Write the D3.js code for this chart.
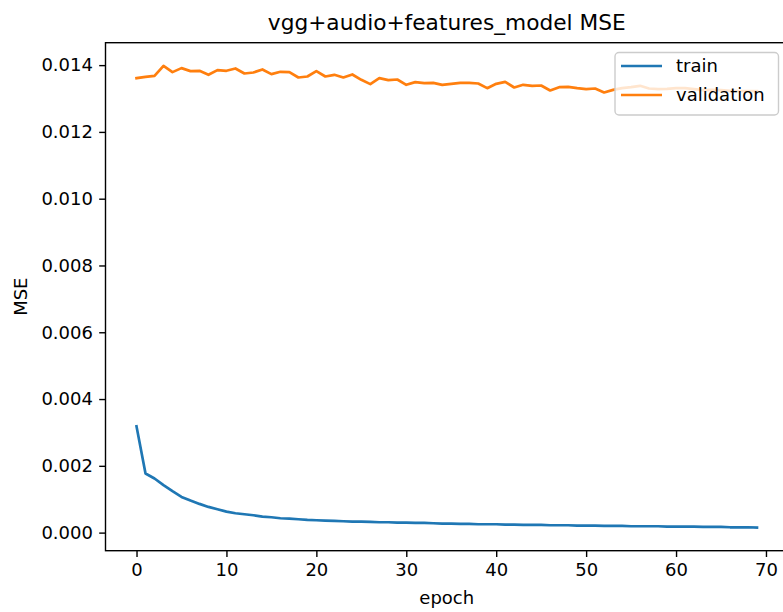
<!DOCTYPE html>
<html>
<head>
<meta charset="utf-8">
<script src="https://cdn.jsdelivr.net/npm/d3@7/dist/d3.min.js"></script>
<style>
  html, body { margin: 0; padding: 0; background: #fff; }
  svg { display: block; font-family: "DejaVu Sans", sans-serif; }
</style>
</head>
<body>
<svg id="chart" width="783" height="612"></svg>
<script>
// Per-epoch mean squared error for the training and validation sets
const epochs = d3.range(70);
const trainMSE = [
  0.00318, 0.00177, 0.00162, 0.00142, 0.00124, 0.00107, 0.00096, 0.00086, 0.00077, 0.00070,
  0.00063, 0.00058, 0.00055, 0.00052, 0.00048, 0.00046, 0.00043, 0.00042, 0.00040, 0.00038,
  0.00037, 0.00036, 0.00035, 0.00034, 0.00033, 0.00033, 0.00032, 0.00031, 0.00031, 0.00030,
  0.00030, 0.00029, 0.00029, 0.00028, 0.00027, 0.00027, 0.00026, 0.00026, 0.00025, 0.00025,
  0.00025, 0.00024, 0.00024, 0.00023, 0.00023, 0.00023, 0.00022, 0.00022, 0.00022, 0.00021,
  0.00021, 0.00021, 0.00020, 0.00020, 0.00020, 0.00019, 0.00019, 0.00019, 0.00019, 0.00018,
  0.00018, 0.00018, 0.00018, 0.00017, 0.00017, 0.00017, 0.00016, 0.00016, 0.00016, 0.00015
];
const validationMSE = [
  0.01361, 0.01365, 0.01368, 0.01398, 0.01379, 0.01391, 0.01382, 0.01383, 0.01371, 0.01385,
  0.01383, 0.01390, 0.01375, 0.01378, 0.01387, 0.01373, 0.01380, 0.01379, 0.01363, 0.01366,
  0.01382, 0.01366, 0.01371, 0.01363, 0.01372, 0.01356, 0.01343, 0.01361, 0.01355, 0.01357,
  0.01341, 0.01349, 0.01346, 0.01347, 0.01341, 0.01344, 0.01347, 0.01347, 0.01345, 0.01331,
  0.01344, 0.01350, 0.01333, 0.01341, 0.01338, 0.01339, 0.01324, 0.01334, 0.01335, 0.01331,
  0.01328, 0.01330, 0.01318, 0.01326, 0.01331, 0.01334, 0.01338, 0.01330, 0.01328, 0.01329,
  0.01331, 0.01331, 0.01328, 0.01325, 0.01326, 0.01325, 0.01323, 0.01322, 0.01322, 0.01322
];
const xTicks = [0, 10, 20, 30, 40, 50, 60, 70];
const yTicks = [0, 0.002, 0.004, 0.006, 0.008, 0.010, 0.012, 0.014];
const seriesNames = ["train", "validation"];
const seriesColors = ["#1f77b4", "#ff7f0e"];

const svg = d3.select("#chart");
const plot = { left: 105.5, right: 788, top: 42.7, bottom: 550.7 };
const fontSize = 18;
const tickLen = 6.3;
const tickPad = 6.3;

// Axis limits padded 5% past the data, as in the usual training-curve plots
const xPad = (d3.max(epochs) - d3.min(epochs)) * 0.05;
const x = d3.scaleLinear()
  .domain([d3.min(epochs) - xPad, d3.max(epochs) + xPad])
  .range([plot.left, plot.right]);
const allY = trainMSE.concat(validationMSE);
const yMin = d3.min(allY), yMax = d3.max(allY);
const yPad = (yMax - yMin) * 0.05;
const y = d3.scaleLinear()
  .domain([yMin - yPad, yMax + yPad])
  .range([plot.bottom, plot.top]);

// Data lines
const line = d3.line().x((d, i) => x(epochs[i])).y(d => y(d));
const clip = svg.append("clipPath").attr("id", "plot-clip")
  .append("rect")
  .attr("x", plot.left).attr("y", plot.top)
  .attr("width", plot.right - plot.left).attr("height", plot.bottom - plot.top);

[trainMSE, validationMSE].forEach((series, k) => {
  svg.append("path")
    .datum(series)
    .attr("clip-path", "url(#plot-clip)")
    .attr("fill", "none")
    .attr("stroke", seriesColors[k])
    .attr("stroke-width", 2.7)
    .attr("stroke-linejoin", "round")
    .attr("stroke-linecap", "square")
    .attr("d", line);
});

// Axes
const xAxis = d3.axisBottom(x).tickValues(xTicks).tickFormat(d3.format("d"))
  .tickSizeInner(tickLen).tickSizeOuter(0).tickPadding(tickPad);
const yAxis = d3.axisLeft(y).tickValues(yTicks).tickFormat(d3.format(".3f"))
  .tickSizeInner(tickLen).tickSizeOuter(0).tickPadding(tickPad);

const gx = svg.append("g").attr("transform", `translate(0,${plot.bottom})`).call(xAxis);
const gy = svg.append("g").attr("transform", `translate(${plot.left},0)`).call(yAxis);
[gx, gy].forEach(g => {
  g.select(".domain").remove();
  g.selectAll(".tick line").attr("stroke", "#000").attr("stroke-width", 1.4);
  g.selectAll(".tick text")
    .attr("fill", "#000")
    .style("font-family", "'DejaVu Sans', sans-serif")
    .style("font-size", fontSize + "px");
});

// Frame (spines)
svg.append("rect")
  .attr("x", plot.left).attr("y", plot.top)
  .attr("width", plot.right - plot.left).attr("height", plot.bottom - plot.top)
  .attr("fill", "none").attr("stroke", "#000").attr("stroke-width", 1.4);

// Title and axis labels
svg.append("text")
  .attr("x", (plot.left + plot.right) / 2).attr("y", 30)
  .attr("text-anchor", "middle")
  .style("font-size", "21.7px").attr("fill", "#000")
  .text("vgg+audio+features_model MSE");
svg.append("text")
  .attr("x", (plot.left + plot.right) / 2).attr("y", 604)
  .attr("text-anchor", "middle")
  .style("font-size", fontSize + "px").attr("fill", "#000")
  .text("epoch");
svg.append("text")
  .attr("transform", `translate(27,${(plot.top + plot.bottom) / 2}) rotate(-90)`)
  .attr("text-anchor", "middle")
  .style("font-size", fontSize + "px").attr("fill", "#000")
  .text("MSE");

// Legend in the upper-right corner
const legend = svg.append("g");
legend.append("rect")
  .attr("x", 615).attr("y", 52.5)
  .attr("width", 163.5).attr("height", 62.5)
  .attr("rx", 4).attr("ry", 4)
  .attr("fill", "rgba(255,255,255,0.8)")
  .attr("stroke", "#cccccc").attr("stroke-width", 1.4);
seriesNames.forEach((name, k) => {
  const ly = 66 + k * 29;
  legend.append("line")
    .attr("x1", 621).attr("x2", 662)
    .attr("y1", ly).attr("y2", ly)
    .attr("stroke", seriesColors[k]).attr("stroke-width", 2.7);
  legend.append("text")
    .attr("x", 676).attr("y", ly)
    .attr("dy", "0.35em")
    .style("font-size", fontSize + "px").attr("fill", "#000")
    .text(name);
});
</script>
</body>
</html>
